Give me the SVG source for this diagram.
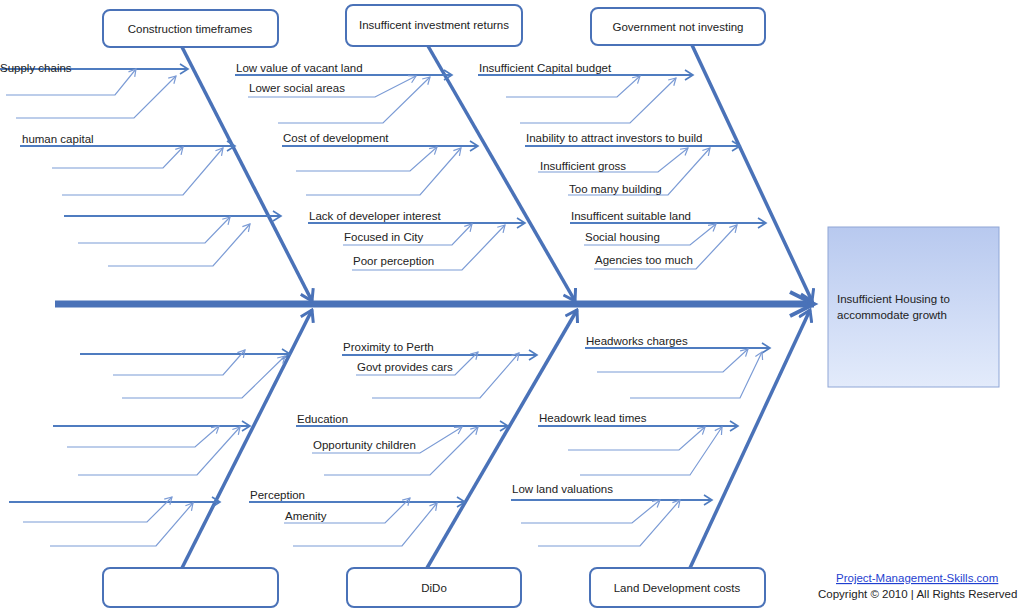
<svg xmlns="http://www.w3.org/2000/svg" width="1024" height="613" viewBox="0 0 1024 613">
<style>
text{font-family:"Liberation Sans",Arial,sans-serif;font-size:11.5px;fill:#222}
.box{fill:#fff;stroke:#4a72b8;stroke-width:2}
.sp{stroke:#4a72b8;stroke-width:3.5;fill:none}
.c{stroke:#4f7cc0;stroke-width:2;fill:none;marker-end:url(#a)}
.s{stroke:#7b9bd5;stroke-width:1.2;fill:none;marker-end:url(#b)}
.ct{text-anchor:middle}
</style>
<defs>
<marker id="a" markerUnits="userSpaceOnUse" markerWidth="12" markerHeight="12" refX="10" refY="6" orient="auto"><path d="M2,1 L10,6 L2,11" fill="none" stroke="#4f7cc0" stroke-width="1.6"/></marker>
<marker id="b" markerUnits="userSpaceOnUse" markerWidth="10" markerHeight="10" refX="9" refY="5" orient="auto"><path d="M2,1 L9,5 L2,9" fill="none" stroke="#7b9bd5" stroke-width="1.2"/></marker>
<marker id="h" markerUnits="userSpaceOnUse" markerWidth="16" markerHeight="16" refX="14" refY="8" orient="auto"><path d="M3,1 L14,8 L3,15" fill="none" stroke="#4a72b8" stroke-width="3"/></marker>
<linearGradient id="g" x1="0" y1="0" x2="0" y2="1"><stop offset="0" stop-color="#b8c9ef"/><stop offset="1" stop-color="#e3ebfb"/></linearGradient>
</defs>
<g id="connectors">
<line x1="55" y1="304" x2="814" y2="304" stroke="#4a72b8" stroke-width="7"/>
<path d="M790,292 L814,304 L790,316" fill="none" stroke="#4a72b8" stroke-width="4"/>
<line class="sp" x1="182" y1="47" x2="312" y2="301" marker-end="url(#h)"/>
<line class="sp" x1="428" y1="46" x2="575" y2="301" marker-end="url(#h)"/>
<line class="sp" x1="692" y1="45" x2="812" y2="301" marker-end="url(#h)"/>
<line class="sp" x1="182" y1="568" x2="312" y2="310" marker-end="url(#h)"/>
<line class="sp" x1="427" y1="568" x2="577" y2="310" marker-end="url(#h)"/>
<line class="sp" x1="690" y1="568" x2="810" y2="310" marker-end="url(#h)"/>
<!-- cat1 -->
<line class="c" x1="0" y1="69" x2="188" y2="69"/>
<polyline class="s" points="6,95 115,95 136,69"/><polyline class="s" points="16,118 134,118 176,76"/>
<line class="c" x1="20" y1="146" x2="235" y2="146"/>
<polyline class="s" points="52,168 163,168 183,147"/><polyline class="s" points="62,195 183,195 223,148"/>
<line class="c" x1="64" y1="216" x2="281" y2="216"/>
<polyline class="s" points="78,243 205,243 230,217"/><polyline class="s" points="108,266 213,266 250,224"/>
<!-- cat2 -->
<line class="c" x1="235" y1="75" x2="452" y2="75"/>
<polyline class="s" points="248,97 375,97 416,76"/><polyline class="s" points="278,123 383,123 430,77"/>
<line class="c" x1="282" y1="146" x2="478" y2="146"/>
<polyline class="s" points="296,171 410,171 437,147"/><polyline class="s" points="306,195 420,195 461,148"/>
<line class="c" x1="308" y1="223" x2="525" y2="223"/>
<polyline class="s" points="343,245 452,245 472,224"/><polyline class="s" points="352,270 462,270 505,225"/>
<!-- cat3 -->
<line class="c" x1="478" y1="75" x2="693" y2="75"/>
<polyline class="s" points="506,97 617,97 640,76"/><polyline class="s" points="520,123 630,123 676,78"/>
<line class="c" x1="525" y1="146" x2="740" y2="146"/>
<polyline class="s" points="538,172 658,172 688,148"/><polyline class="s" points="568,195 668,195 710,148"/>
<line class="c" x1="570" y1="223" x2="766" y2="223"/>
<polyline class="s" points="584,245 690,245 716,224"/><polyline class="s" points="594,269 696,269 737,225"/>
<!-- cat4 -->
<line class="c" x1="80" y1="354" x2="290" y2="354"/>
<polyline class="s" points="113,375 223,375 245,350"/><polyline class="s" points="122,398 242,398 285,356"/>
<line class="c" x1="53" y1="426" x2="250" y2="426"/>
<polyline class="s" points="67,447 195,447 219,426"/><polyline class="s" points="78,475 197,475 240,427"/>
<line class="c" x1="9" y1="502" x2="220" y2="502"/>
<polyline class="s" points="23,522 147,522 172,497"/><polyline class="s" points="50,546 156,546 193,503"/>
<!-- cat5 -->
<line class="c" x1="342" y1="355" x2="537" y2="355"/>
<polyline class="s" points="356,375 455,375 478,352"/><polyline class="s" points="372,398 480,398 519,353"/>
<line class="c" x1="296" y1="426" x2="508" y2="426"/>
<polyline class="s" points="312,453 420,453 462,427"/><polyline class="s" points="324,475 430,475 478,427"/>
<line class="c" x1="249" y1="502" x2="465" y2="502"/>
<polyline class="s" points="284,523 385,523 410,498"/><polyline class="s" points="293,546 402,546 437,503"/>
<!-- cat6 -->
<line class="c" x1="585" y1="348" x2="770" y2="348"/>
<polyline class="s" points="597,372 723,372 748,349"/><polyline class="s" points="630,398 740,398 762,352"/>
<line class="c" x1="538" y1="426" x2="738" y2="426"/>
<polyline class="s" points="568,450 679,450 705,427"/><polyline class="s" points="580,475 690,475 722,427"/>
<line class="c" x1="511" y1="500" x2="712" y2="500"/>
<polyline class="s" points="521,523 632,523 660,500"/><polyline class="s" points="538,546 640,546 680,500"/>
</g>
<g id="labels">
<text x="0" y="72">Supply chains</text>
<text x="22" y="143">human capital</text>
<text x="236" y="72">Low value of vacant land</text>
<text x="249" y="92">Lower social areas</text>
<text x="283" y="142">Cost of development</text>
<text x="309" y="220">Lack of developer interest</text>
<text x="344" y="241">Focused in City</text>
<text x="353" y="265">Poor perception</text>
<text x="479" y="72">Insufficient Capital budget</text>
<text x="526" y="142">Inability to attract investors to build</text>
<text x="540" y="170">Insufficient gross</text>
<text x="569" y="193">Too many building</text>
<text x="571" y="220">Insufficent suitable land</text>
<text x="585" y="241">Social housing</text>
<text x="595" y="264">Agencies too much</text>
<text x="343" y="351">Proximity to Perth</text>
<text x="357" y="371">Govt provides cars</text>
<text x="297" y="423">Education</text>
<text x="313" y="449">Opportunity children</text>
<text x="250" y="499">Perception</text>
<text x="285" y="520">Amenity</text>
<text x="586" y="345">Headworks charges</text>
<text x="539" y="422">Headowrk lead times</text>
<text x="512" y="493">Low land valuations</text>
</g>
<g id="n1"><rect class="box" x="103" y="10" width="175" height="37" rx="7"/><text class="ct" x="190" y="33">Construction timeframes</text></g>
<g id="n2"><rect class="box" x="346" y="5" width="176" height="41" rx="7"/><text class="ct" x="434" y="29">Insufficent investment returns</text></g>
<g id="n3"><rect class="box" x="591" y="8" width="174" height="37" rx="7"/><text class="ct" x="678" y="31">Government not investing</text></g>
<g id="n4"><rect class="box" x="103" y="568" width="175" height="39" rx="7"/></g>
<g id="n5"><rect class="box" x="347" y="568" width="174" height="39" rx="7"/><text class="ct" x="434" y="592">DiDo</text></g>
<g id="n6"><rect class="box" x="590" y="568" width="175" height="39" rx="7"/><text class="ct" x="677" y="592">Land Development costs</text></g>
<g id="effect"><rect x="828" y="227" width="171" height="160" fill="url(#g)" stroke="#8fa6d6" stroke-width="1"/><text x="837" y="303">Insufficient Housing to</text><text x="837" y="319">accommodate growth</text></g>
<g id="footer"><text x="836" y="582" style="fill:#1f3fd0;text-decoration:underline">Project-Management-Skills.com</text><text x="818" y="598">Copyright © 2010 | All Rights Reserved</text></g>
</svg>
